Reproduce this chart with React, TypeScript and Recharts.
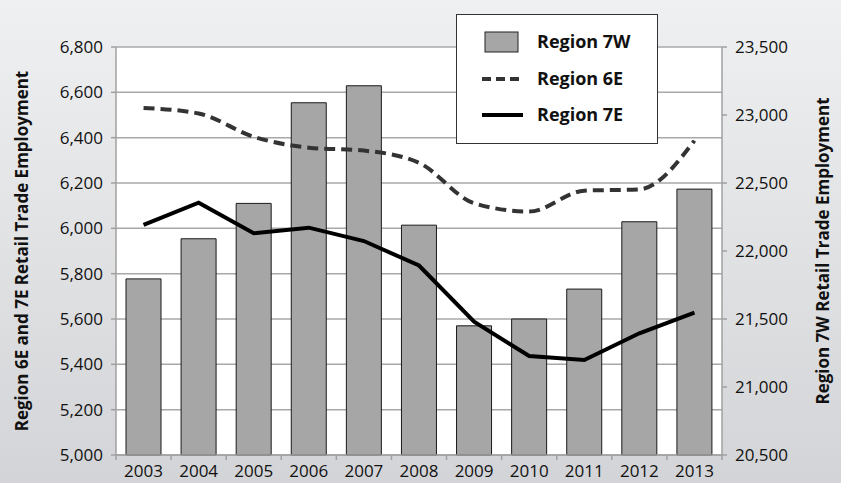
import React from 'react';
import {
  Bar,
  CartesianGrid,
  ComposedChart,
  Legend,
  Line,
  XAxis,
  YAxis
} from 'recharts';

const years = ['2003', '2004', '2005', '2006', '2007', '2008', '2009', '2010', '2011', '2012', '2013'];
const region7W = [21795, 22090, 22350, 23090, 23215, 22190, 21450, 21500, 21720, 22215, 22455];
const region6E = [6531, 6507, 6404, 6356, 6343, 6289, 6111, 6074, 6166, 6172, 6387];
const region7E = [6015, 6113, 5978, 6003, 5944, 5836, 5588, 5437, 5419, 5537, 5628];
const leftTicks = [5000, 5200, 5400, 5600, 5800, 6000, 6200, 6400, 6600, 6800];
const rightTicks = [20500, 21000, 21500, 22000, 22500, 23000, 23500];

const chartData = years.map((year, i) => ({
  year,
  r7w: region7W[i],
  r6e: region6E[i],
  r7e: region7E[i]
}));

const FONT = '"Open Sans", sans-serif';
const W = 841;
const H = 483;
const PLOT_LEFT = 116;
const PLOT_RIGHT = 722;
const band = (PLOT_RIGHT - PLOT_LEFT) / years.length;

const fmt = (v: number) => v.toLocaleString('en-US');

// Excel-style ticks sit on the category boundaries, not under the labels
const XTick = (props: any) => {
  const { x, y, payload, index } = props;
  const half = band / 2;
  return (
    <g>
      <line x1={x - half} y1={y - 8} x2={x - half} y2={y - 3} stroke="#a0a0a0" strokeWidth={1.5} />
      {index === years.length - 1 && (
        <line x1={x + half} y1={y - 8} x2={x + half} y2={y - 3} stroke="#a0a0a0" strokeWidth={1.5} />
      )}
      <text x={x} y={y + 14} textAnchor="middle" fontSize={17} fontFamily={FONT} fill="#111">
        {payload.value}
      </text>
    </g>
  );
};

const legendText = { fontFamily: FONT, fontWeight: 700, fontSize: 18, fill: '#111' };

const renderLegend = () => (
  <div
    style={{
      width: 202,
      height: 130,
      background: '#fff',
      border: '1px solid #333',
      boxSizing: 'border-box'
    }}
  >
    <svg width={200} height={128}>
      <rect x={28} y={17} width={33} height={20} fill="#a6a6a6" stroke="#222" strokeWidth={1} />
      <line x1={25} y1={64} x2={66} y2={64} stroke="#333" strokeWidth={4} strokeDasharray="9 5" />
      <line x1={25} y1={100} x2={66} y2={100} stroke="#000" strokeWidth={4} />
      <text x={80} y={33} {...legendText}>Region 7W</text>
      <text x={80} y={70} {...legendText}>Region 6E</text>
      <text x={80} y={106} {...legendText}>Region 7E</text>
    </svg>
  </div>
);

export default function App() {
  return (
    <div
      style={{
        position: 'absolute',
        left: 0,
        top: 0,
        width: W,
        height: H,
        background: 'linear-gradient(#eff0f1, #d3d4d7)'
      }}
    >
      <ComposedChart
        width={W}
        height={H}
        data={chartData}
        margin={{ top: 47, right: 0, left: 0, bottom: 0 }}
      >
        <CartesianGrid
          vertical={false}
          fill="#ffffff"
          stroke="#a8a8a8"
          strokeWidth={1.5}
          yAxisId="left"
        />
        <XAxis
          dataKey="year"
          height={28}
          tick={<XTick />}
          tickLine={false}
          axisLine={{ stroke: '#a0a0a0', strokeWidth: 1.5 }}
          interval={0}
        />
        <YAxis
          yAxisId="left"
          width={PLOT_LEFT}
          domain={[5000, 6800]}
          ticks={leftTicks}
          tickFormatter={fmt}
          tick={{ fontSize: 17, fontFamily: FONT, fill: '#111' }}
          tickSize={5}
          tickMargin={8}
          tickLine={{ stroke: '#a0a0a0', strokeWidth: 1.5 }}
          axisLine={{ stroke: '#a0a0a0', strokeWidth: 1.5 }}
          interval={0}
          label={{
            value: 'Region 6E and 7E Retail Trade Employment',
            angle: -90,
            position: 'insideLeft',
            offset: 22,
            style: { fontSize: 17, fontWeight: 700, fontFamily: FONT, fill: '#111', textAnchor: 'middle' }
          }}
        />
        <YAxis
          yAxisId="right"
          orientation="right"
          width={W - PLOT_RIGHT}
          domain={[20500, 23500]}
          ticks={rightTicks}
          tickFormatter={fmt}
          tick={{ fontSize: 17, fontFamily: FONT, fill: '#111' }}
          tickSize={5}
          tickMargin={8}
          tickLine={{ stroke: '#a0a0a0', strokeWidth: 1.5 }}
          axisLine={{ stroke: '#a0a0a0', strokeWidth: 1.5 }}
          interval={0}
          label={{
            value: 'Region 7W Retail Trade Employment',
            angle: -90,
            position: 'insideRight',
            offset: 18,
            style: { fontSize: 17, fontWeight: 700, fontFamily: FONT, fill: '#111', textAnchor: 'middle' }
          }}
        />
        <Bar
          yAxisId="right"
          dataKey="r7w"
          name="Region 7W"
          fill="#a6a6a6"
          stroke="#1a1a1a"
          strokeWidth={1}
          barSize={35}
          isAnimationActive={false}
        />
        <Line
          yAxisId="left"
          dataKey="r6e"
          name="Region 6E"
          type="monotone"
          stroke="#333"
          strokeWidth={4}
          strokeDasharray="11 6"
          dot={false}
          activeDot={false}
          isAnimationActive={false}
        />
        <Line
          yAxisId="left"
          dataKey="r7e"
          name="Region 7E"
          type="linear"
          stroke="#000"
          strokeWidth={4}
          dot={false}
          activeDot={false}
          isAnimationActive={false}
        />
        <Legend
          content={renderLegend}
          layout="horizontal"
          verticalAlign="middle"
          align="center"
          wrapperStyle={{ position: 'absolute', left: 456, top: 14, width: 202, height: 130 }}
        />
      </ComposedChart>
    </div>
  );
}
